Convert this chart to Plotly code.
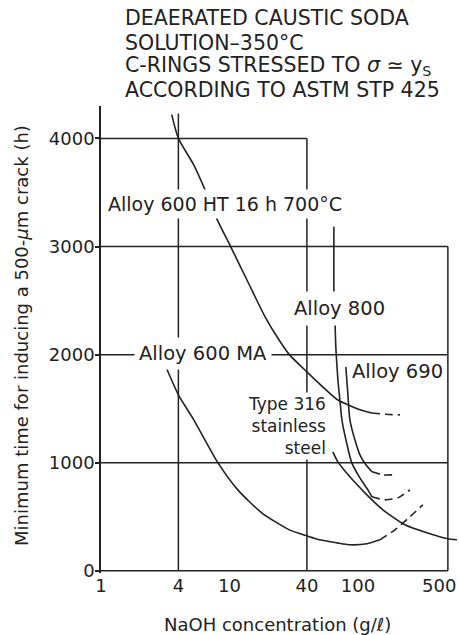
import math
import plotly.graph_objects as go

# ---------------- data ----------------
x_ticks = [1, 4, 10, 40, 100, 500]
x_tick_text = ["1", "4", "10", "40", "100", "500"]
y_ticks = [0, 1000, 2000, 3000, 4000]

# Alloy 600 HT 16 h 700 C
ht_x = [3.55, 4.0, 5.27, 6.34, 8.05, 10.2, 14.0, 19.1, 24.3, 29.2, 40, 53.3, 69.7, 103.4, 128.2]
ht_y = [4220, 4000, 3755, 3545, 3245, 3000, 2665, 2340, 2135, 2000, 1840, 1700, 1580, 1490, 1460]
ht_ext_x = [128.2, 165, 212]
ht_ext_y = [1460, 1448, 1443]

# Alloy 800
a800_x = [64.9, 64.9, 66.1, 67.3, 69.7, 72.2, 74.9, 80.5, 89.4, 103.4, 119.3, 128.2]
a800_y = [3182, 2600, 2322, 2045, 1768, 1582, 1397, 1212, 999, 860, 749, 685]
a800_ext_x = [128.2, 161.8, 204.3, 253.2]
a800_ext_y = [685, 657, 675, 749]

# Alloy 690
a690_x = [80.4, 83.4, 86.4, 94.5, 103.4, 115.1, 128.2]
a690_y = [1887, 1628, 1397, 1212, 1073, 981, 916]
a690_ext_x = [128.2, 156.1, 193.6]
a690_ext_y = [916, 888, 888]

# Type 316 stainless steel
t316_x = [63.7, 69.7, 86.4, 117.2, 156.1, 231.5, 343.4, 500, 588]
t316_y = [1101, 1008, 870, 703, 564, 426, 352, 296, 287]

# Alloy 600 MA
ma_x = [3.15, 4.0, 5.27, 8.05, 11.6, 17.8, 29.2, 40, 50.4, 68.5, 86.4, 117.2, 147.9]
ma_y = [1906, 1628, 1397, 1008, 749, 537, 379, 324, 287, 259, 241, 250, 287]
ma_ext_x = [147.9, 193.6, 253.2, 319.6]
ma_ext_y = [287, 379, 500, 611]

# stepped frame / grid of the original figure
grid_h = [(4000, 1, 40), (3000, 1, 500), (2000, 1, 500), (1000, 1, 500), (0, 1, 500)]
grid_v = [(4, 0, 4230), (40, 0, 4000), (500, 0, 3000)]

INK = "#222222"
fig = go.Figure()

for yv, xa, xb in grid_h:
    fig.add_trace(go.Scatter(x=[xa, xb], y=[yv, yv], mode="lines",
                             line=dict(color=INK, width=1.5), hoverinfo="skip"))
for xv, ya, yb in grid_v:
    fig.add_trace(go.Scatter(x=[xv, xv], y=[ya, yb], mode="lines",
                             line=dict(color=INK, width=1.5), hoverinfo="skip"))

def curve(xs, ys, dash="solid"):
    fig.add_trace(go.Scatter(x=xs, y=ys, mode="lines",
                             line=dict(color=INK, width=1.6, shape="spline", smoothing=0.6, dash=dash),
                             hoverinfo="skip"))

DASH = "8px,5px"
curve(ht_x, ht_y); curve(ht_ext_x, ht_ext_y, DASH)
curve(a800_x, a800_y); curve(a800_ext_x, a800_ext_y, DASH)
curve(a690_x, a690_y); curve(a690_ext_x, a690_ext_y, DASH)
curve(t316_x, t316_y)
curve(ma_x, ma_y); curve(ma_ext_x, ma_ext_y, DASH)

# plot-area geometry (pixels) used to place annotations in paper coords
L, W, T, H = 101, 356, 106, 467
def px(xp):
    return (xp - L) / W
def py(yp):
    return (T + H - yp) / H

FONT = "DejaVu Sans"
ann = []
title_lines = [
    ("DEAERATED CAUSTIC SODA", 18.5),
    ("SOLUTION\u2013350\u00b0C", 42.5),
    ("C-RINGS STRESSED TO <i>\u03c3</i> \u2243 y<sub>S</sub>", 66),
    ("ACCORDING TO ASTM STP 425", 90.5),
]
for txt, yc in title_lines:
    ann.append(dict(text=txt, xref="paper", yref="paper", x=px(123), y=py(yc),
                    xanchor="left", yanchor="middle", showarrow=False,
                    font=dict(family=FONT, size=20.5, color=INK)))

def label(txt, xc, yc, size=19.5, pad=3, xanchor="center", align="center"):
    ann.append(dict(text=txt, xref="paper", yref="paper", x=px(xc), y=py(yc),
                    xanchor=xanchor, yanchor="middle", showarrow=False, align=align,
                    bgcolor="white", borderpad=pad,
                    font=dict(family=FONT, size=size, color=INK)))

label("Alloy 600 HT 16 h 700\u00b0C", 224.5, 203.5, size=19)
label("Alloy 800", 339, 308.5, pad=5)
label("Alloy 690", 397, 371.5, pad=1)
label("Alloy 600 MA", 203, 353.5, pad=4)
label("Type 316<br>stainless<br>steel", 328, 425.5, size=17, pad=1, xanchor="right", align="right")

# last x tick label at the right edge of the page, kept fully inside it
ann.append(dict(text=x_tick_text[-1], xref="paper", yref="paper", x=px(458),
                y=py(585), xanchor="right", yanchor="middle", showarrow=False,
                font=dict(family=FONT, size=18, color=INK)))

ann.append(dict(text="Minimum time for inducing a 500-<i>\u03bc</i>m crack (h)",
                xref="paper", yref="paper", x=px(21), y=py(336), textangle=-90,
                xanchor="center", yanchor="middle", showarrow=False,
                font=dict(family=FONT, size=18, color=INK)))
ann.append(dict(text="NaOH concentration (g/\u2113)", xref="paper", yref="paper",
                x=px(277), y=py(624), xanchor="center", yanchor="middle", showarrow=False,
                font=dict(family=FONT, size=18, color=INK)))

fig.update_layout(
    width=459, height=635,
    margin=dict(l=L, r=459 - L - W, t=T, b=635 - T - H),
    paper_bgcolor="white", plot_bgcolor="white",
    showlegend=False,
    font=dict(family=FONT, color=INK),
    annotations=ann,
    xaxis=dict(type="log", range=[0, 2.770], showgrid=False, zeroline=False,
               showline=False, tickvals=x_ticks[:-1], ticktext=x_tick_text[:-1], ticks="",
               automargin=False,
               tickfont=dict(size=18, family=FONT, color=INK)),
    yaxis=dict(range=[-20, 4300], showgrid=False, zeroline=False,
               showline=True, linecolor=INK, linewidth=1.5,
               ticks="outside", ticklen=4, tickwidth=1.5, tickcolor=INK,
               ticklabelstandoff=-3, automargin=False,
               tickvals=y_ticks, tickfont=dict(size=18, family=FONT, color=INK)),
)

fig.write_html("out.html")
